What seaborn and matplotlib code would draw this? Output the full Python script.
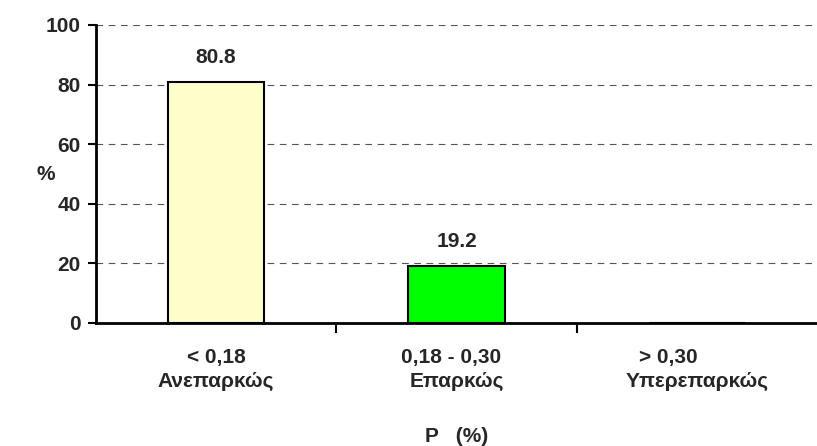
import matplotlib
matplotlib.use("Agg")
import matplotlib.pyplot as plt
import seaborn as sns
import pandas as pd

# Data
categories = ["< 0,18\nΑνεπαρκώς", "0,18 - 0,30  \nΕπαρκώς",
              "> 0,30          \nΥπερεπαρκώς"]
values = [80.8, 19.2, 0.0]
bar_colors = ["#FFFFCC", "#00FF00", "#FFFFFF"]
y_ticks = [0, 20, 40, 60, 80, 100]

df = pd.DataFrame({"cat": categories, "val": values})

sns.set_style("white")
plt.rcParams["font.family"] = ["Liberation Sans", "DejaVu Sans"]
plt.rcParams["font.weight"] = "bold"

fig = plt.figure(figsize=(8.17, 4.46), dpi=100)
ax = fig.add_axes([96 / 817, 1 - 323 / 446, 1 - 96 / 817, 298 / 446])

sns.barplot(data=df, x="cat", y="val", hue="cat", palette=bar_colors,
            saturation=1, width=0.4, edgecolor="black", linewidth=1.5,
            legend=False, ax=ax)

# bar value labels (skip empty bar)
for i, v in enumerate(values):
    if v > 0:
        ax.text(i, v + 5, f"{v:.1f}", ha="center", va="bottom",
                fontsize=15, fontweight="bold")

ax.set_xlim(-0.5, 2.5)
ax.set_ylim(0, 100)
ax.set_yticks(y_ticks)
ax.set_yticklabels([str(t) for t in y_ticks], fontsize=15, fontweight="bold")

# dashed grid lines
for t in y_ticks[1:]:
    ax.axhline(t, color="#555555", linestyle=(0, (6, 5)), linewidth=0.8, zorder=0)

ax.set_xticks([0, 1, 2])
ax.set_xticklabels(categories, fontsize=15, fontweight="bold", linespacing=1.3)
ax.set_xticks([0.5, 1.5], minor=True)
ax.tick_params(axis="x", which="major", bottom=False, length=0, pad=18)
ax.tick_params(axis="x", which="minor", bottom=True, length=7, width=1.5,
               direction="out", color="black")
ax.tick_params(axis="y", length=6, width=1.5, direction="out", color="black",
               pad=5, left=True)

for side in ["top", "right"]:
    ax.spines[side].set_visible(False)
for side in ["left", "bottom"]:
    ax.spines[side].set_linewidth(2)
    ax.spines[side].set_color("black")

ax.set_xlabel("P   (%)", fontsize=15, fontweight="bold", labelpad=26)
ax.set_ylabel("%", fontsize=15, fontweight="bold", rotation=0, va="center")
ax.yaxis.set_label_coords(-0.07, 0.5)

fig.savefig("out.png", dpi=100)
